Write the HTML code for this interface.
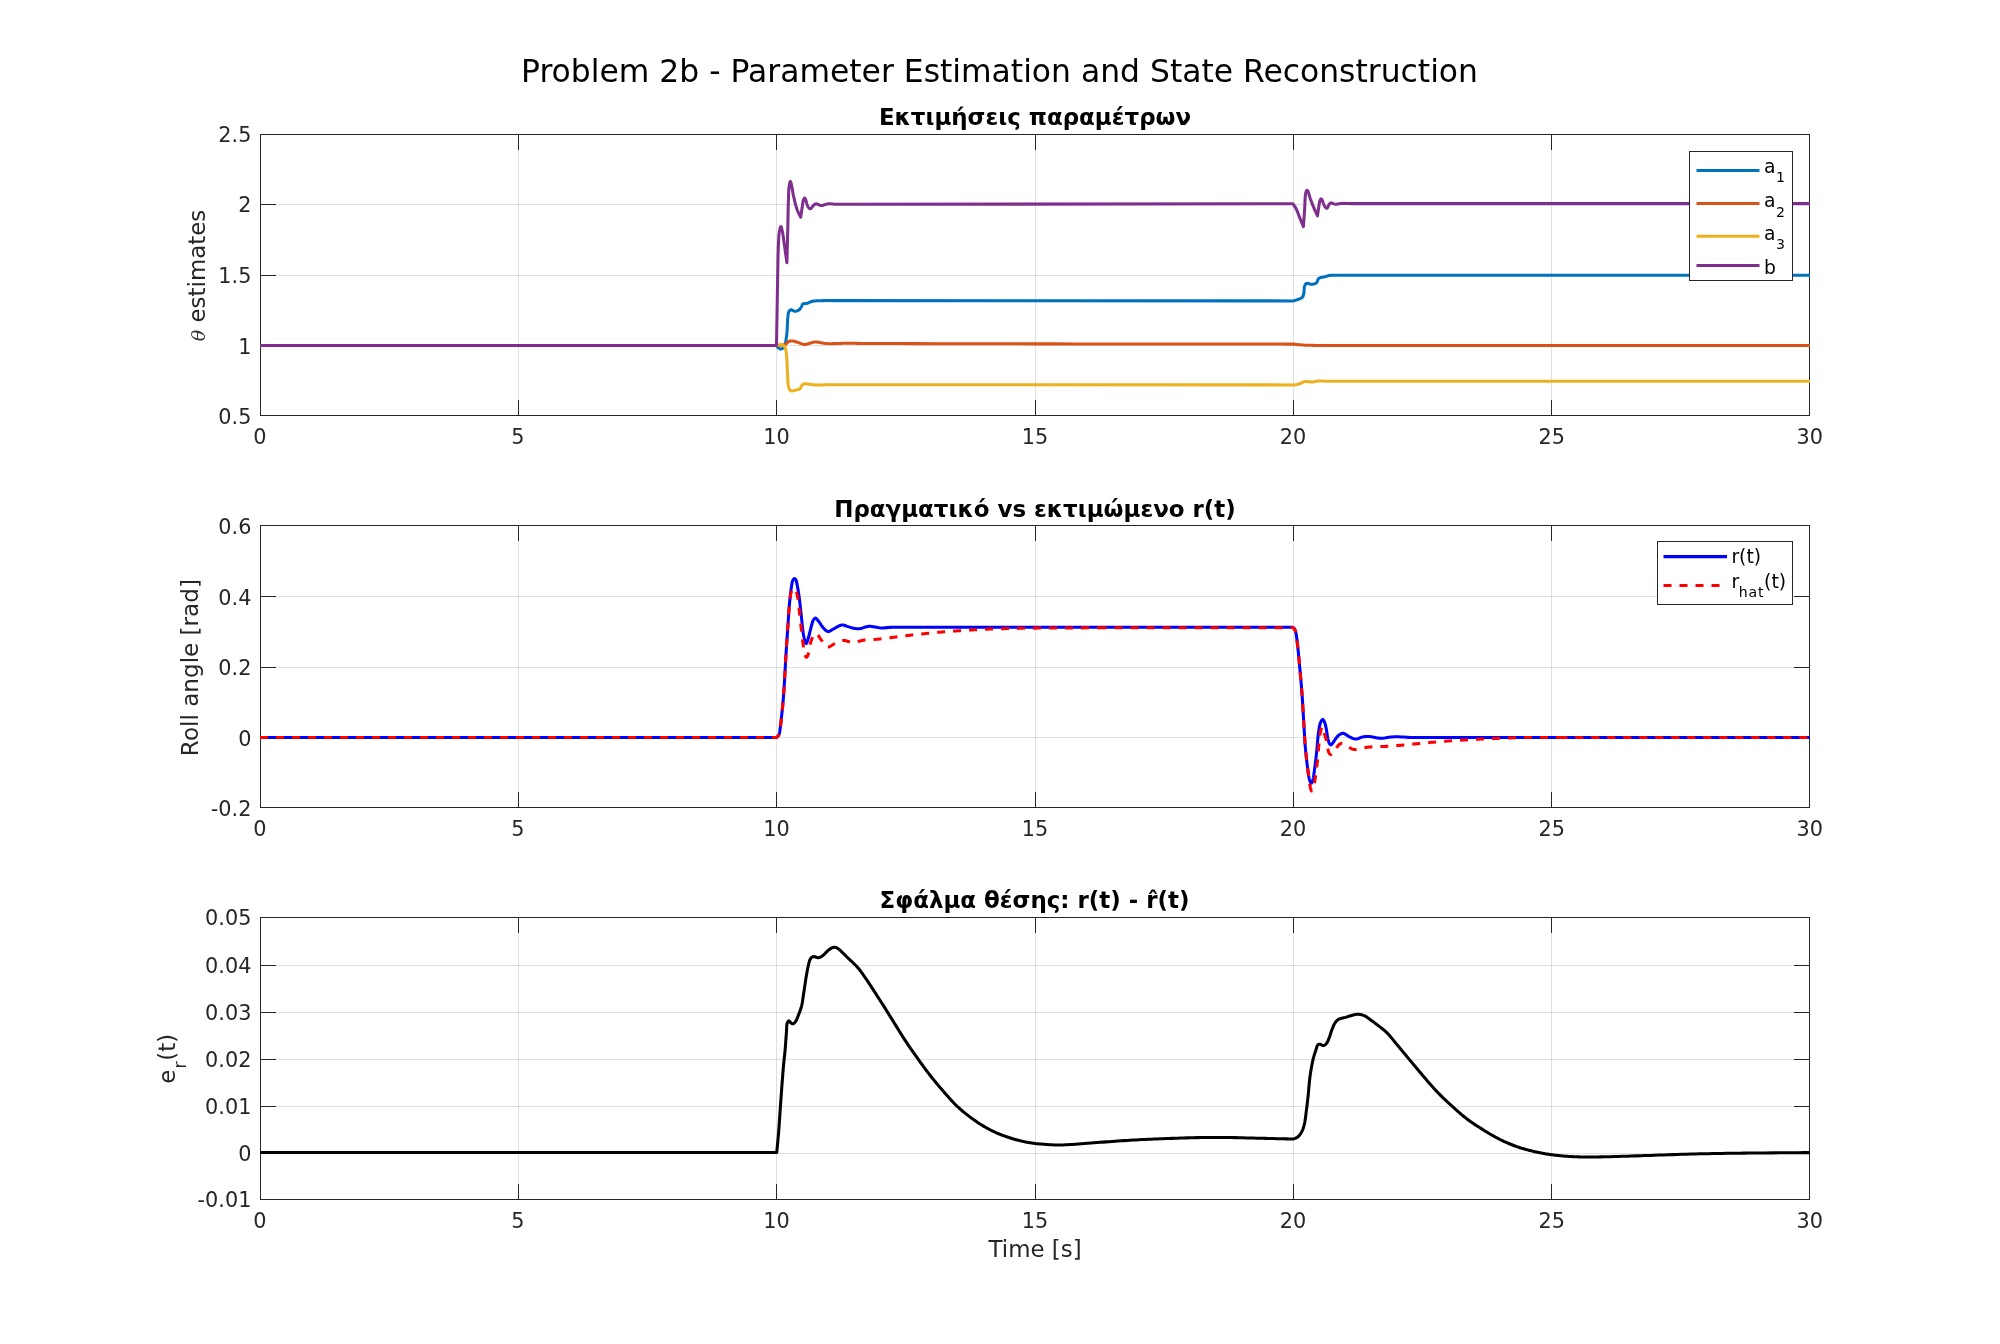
<!DOCTYPE html>
<html lang="el"><head><meta charset="utf-8"><title>Problem 2b - Parameter Estimation and State Reconstruction</title>
<style>
html,body{margin:0;padding:0;background:#fff;overflow:hidden}
svg{display:block;will-change:transform}
text{font-family:"DejaVu Sans","Liberation Sans",sans-serif;fill:#262626}
.tk{font-size:20.8px}
.lb{font-size:22.9px}
.ti{font-size:22.95px;font-weight:bold;fill:#000}
.lg{font-size:18.75px;fill:#000}
.sb{font-size:14.1px}
.ax{stroke:#262626;stroke-width:1;fill:none;shape-rendering:crispEdges}
.gr{stroke:#262626;stroke-opacity:0.14;stroke-width:1;fill:none;shape-rendering:crispEdges}
.ln{fill:none;stroke-width:3.05;stroke-linejoin:round;stroke-linecap:butt}
</style></head>
<body>
<svg width="2000" height="1344" viewBox="0 0 2000 1344">
<rect x="0" y="0" width="2000" height="1344" fill="#ffffff"/>
<text x="999.5" y="82" text-anchor="middle" style="font-size:31.4px;fill:#000">Problem 2b - Parameter Estimation and State Reconstruction</text>
<g id="ax1">
<path class="gr" d="M518.5 134.5 V415.5 M776.5 134.5 V415.5 M1035.5 134.5 V415.5 M1293.5 134.5 V415.5 M1551.5 134.5 V415.5"/>
<path class="gr" d="M260.5 204.5 H1809.5 M260.5 275.5 H1809.5 M260.5 345.5 H1809.5"/>
<path class="ax" d="M518.5 415.5 v-15.6 M518.5 134.5 v15.6 M776.5 415.5 v-15.6 M776.5 134.5 v15.6 M1035.5 415.5 v-15.6 M1035.5 134.5 v15.6 M1293.5 415.5 v-15.6 M1293.5 134.5 v15.6 M1551.5 415.5 v-15.6 M1551.5 134.5 v15.6 M260.5 204.5 h15.6 M1809.5 204.5 h-15.6 M260.5 275.5 h15.6 M1809.5 275.5 h-15.6 M260.5 345.5 h15.6 M1809.5 345.5 h-15.6"/>
<rect class="ax" x="260.5" y="134.5" width="1549" height="281"/>
<clipPath id="c1"><rect x="260" y="134" width="1550" height="282"/></clipPath>
<g clip-path="url(#c1)">
<path class="ln" stroke="#0072BD"  d="M260.00 345.50 L776.60 345.50 L776.65 345.58 L776.79 345.80 L777.01 346.13 L777.28 346.52 L777.58 346.94 L777.90 347.35 L778.21 347.72 L778.50 348.00 L778.74 348.20 L778.99 348.39 L779.24 348.58 L779.51 348.75 L779.77 348.89 L780.05 349.00 L780.32 349.07 L780.60 349.10 L780.93 349.08 L781.28 349.01 L781.63 348.89 L782.00 348.73 L782.35 348.54 L782.69 348.32 L783.01 348.07 L783.30 347.80 L783.61 347.44 L783.88 347.03 L784.12 346.58 L784.33 346.08 L784.53 345.55 L784.72 344.98 L784.91 344.38 L785.10 343.75 L785.39 342.68 L785.66 341.48 L785.91 340.20 L786.14 338.83 L786.35 337.41 L786.55 335.95 L786.73 334.47 L786.90 333.00 L787.07 331.19 L787.20 329.26 L787.29 327.24 L787.37 325.20 L787.45 323.20 L787.54 321.28 L787.65 319.49 L787.80 317.90 L787.90 316.95 L787.99 316.03 L788.08 315.15 L788.17 314.31 L788.29 313.53 L788.45 312.81 L788.64 312.16 L788.90 311.60 L789.10 311.27 L789.31 310.96 L789.54 310.67 L789.78 310.42 L790.04 310.20 L790.31 310.02 L790.60 309.88 L790.90 309.80 L791.28 309.81 L791.70 309.93 L792.13 310.15 L792.59 310.41 L793.06 310.68 L793.54 310.93 L794.02 311.11 L794.50 311.20 L795.04 311.20 L795.61 311.15 L796.20 311.05 L796.79 310.91 L797.37 310.73 L797.92 310.52 L798.44 310.27 L798.90 310.00 L799.27 309.72 L799.60 309.40 L799.90 309.05 L800.18 308.67 L800.45 308.28 L800.70 307.88 L800.95 307.49 L801.20 307.10 L801.42 306.71 L801.62 306.29 L801.79 305.85 L801.96 305.41 L802.14 304.99 L802.35 304.61 L802.60 304.27 L802.90 304.00 L803.30 303.80 L803.75 303.67 L804.25 303.61 L804.78 303.59 L805.33 303.58 L805.89 303.56 L806.45 303.51 L807.00 303.40 L807.63 303.20 L808.26 302.95 L808.89 302.66 L809.53 302.35 L810.19 302.05 L810.87 301.76 L811.57 301.50 L812.30 301.30 L813.21 301.12 L814.15 300.99 L815.13 300.90 L816.14 300.84 L817.17 300.80 L818.23 300.77 L819.30 300.74 L820.40 300.70 L821.91 300.65 L823.70 300.62 L825.62 300.60 L827.52 300.60 L829.26 300.59 L830.68 300.60 L831.65 300.60 L832.00 300.60 L1293.50 300.90 L1293.65 300.86 L1294.05 300.74 L1294.65 300.56 L1295.38 300.33 L1296.19 300.08 L1297.00 299.81 L1297.76 299.55 L1298.40 299.30 L1298.92 299.10 L1299.45 298.90 L1299.97 298.70 L1300.48 298.49 L1300.97 298.26 L1301.42 298.01 L1301.84 297.73 L1302.20 297.40 L1302.49 297.06 L1302.73 296.70 L1302.94 296.31 L1303.12 295.90 L1303.27 295.47 L1303.42 295.01 L1303.56 294.52 L1303.70 294.00 L1303.88 293.12 L1303.99 292.09 L1304.07 290.97 L1304.13 289.80 L1304.20 288.65 L1304.30 287.57 L1304.46 286.60 L1304.70 285.80 L1304.88 285.39 L1305.06 285.00 L1305.26 284.64 L1305.48 284.31 L1305.71 284.02 L1305.98 283.77 L1306.27 283.56 L1306.60 283.40 L1307.11 283.31 L1307.72 283.36 L1308.38 283.51 L1309.09 283.72 L1309.82 283.94 L1310.54 284.14 L1311.24 284.28 L1311.90 284.30 L1312.49 284.25 L1313.08 284.17 L1313.68 284.05 L1314.26 283.91 L1314.82 283.72 L1315.36 283.49 L1315.85 283.22 L1316.30 282.90 L1316.70 282.47 L1317.02 281.93 L1317.30 281.32 L1317.55 280.68 L1317.79 280.04 L1318.05 279.43 L1318.35 278.91 L1318.70 278.50 L1319.02 278.26 L1319.35 278.07 L1319.70 277.92 L1320.06 277.80 L1320.44 277.69 L1320.82 277.60 L1321.21 277.51 L1321.60 277.40 L1322.06 277.28 L1322.53 277.17 L1323.02 277.08 L1323.51 276.99 L1324.02 276.90 L1324.52 276.81 L1325.01 276.71 L1325.50 276.60 L1325.98 276.47 L1326.45 276.33 L1326.92 276.17 L1327.39 276.02 L1327.86 275.86 L1328.33 275.72 L1328.81 275.60 L1329.30 275.50 L1329.81 275.42 L1330.33 275.37 L1330.85 275.33 L1331.37 275.31 L1331.90 275.29 L1332.43 275.28 L1332.97 275.27 L1333.50 275.25 L1334.12 275.23 L1334.82 275.22 L1335.57 275.21 L1336.30 275.21 L1336.96 275.20 L1337.50 275.20 L1337.87 275.20 L1338.00 275.20 L1810.00 275.20"/>
<path class="ln" stroke="#D95319"  d="M260.00 345.50 L776.60 345.50 L776.72 345.49 L777.03 345.47 L777.50 345.44 L778.09 345.40 L778.73 345.36 L779.40 345.31 L780.03 345.25 L780.60 345.20 L781.16 345.16 L781.73 345.13 L782.31 345.10 L782.89 345.07 L783.47 345.01 L784.04 344.93 L784.58 344.79 L785.10 344.60 L785.60 344.32 L786.07 343.94 L786.51 343.51 L786.95 343.04 L787.38 342.58 L787.81 342.15 L788.25 341.78 L788.70 341.50 L789.07 341.33 L789.44 341.20 L789.81 341.09 L790.18 341.01 L790.55 340.95 L790.95 340.91 L791.36 340.90 L791.80 340.90 L792.47 340.95 L793.20 341.07 L793.97 341.24 L794.77 341.44 L795.58 341.68 L796.40 341.92 L797.21 342.17 L798.00 342.40 L798.79 342.66 L799.59 342.97 L800.38 343.30 L801.18 343.64 L801.97 343.95 L802.76 344.21 L803.53 344.41 L804.30 344.50 L804.98 344.49 L805.65 344.41 L806.31 344.27 L806.97 344.09 L807.63 343.89 L808.28 343.68 L808.94 343.47 L809.60 343.30 L810.26 343.13 L810.89 342.94 L811.52 342.74 L812.15 342.54 L812.80 342.35 L813.49 342.19 L814.21 342.07 L815.00 342.00 L816.30 342.01 L817.70 342.14 L819.20 342.36 L820.78 342.64 L822.41 342.94 L824.09 343.22 L825.79 343.45 L827.50 343.60 L829.58 343.67 L831.73 343.68 L833.94 343.64 L836.20 343.57 L838.48 343.48 L840.79 343.40 L843.10 343.33 L845.40 343.30 L848.08 343.30 L851.16 343.32 L854.41 343.35 L857.59 343.39 L860.48 343.43 L862.83 343.47 L864.42 343.49 L865.00 343.50 L868.91 343.51 L879.60 343.54 L895.54 343.57 L915.18 343.62 L936.99 343.67 L959.42 343.72 L980.94 343.76 L1000.00 343.80 L1018.39 343.83 L1037.02 343.86 L1055.82 343.89 L1074.71 343.91 L1093.65 343.94 L1112.55 343.96 L1131.35 343.98 L1150.00 344.00 L1170.05 344.02 L1192.82 344.04 L1216.66 344.05 L1239.88 344.07 L1260.85 344.08 L1277.88 344.09 L1289.32 344.10 L1293.50 344.10 L1293.66 344.12 L1294.10 344.18 L1294.76 344.27 L1295.58 344.38 L1296.51 344.50 L1297.47 344.61 L1298.42 344.72 L1299.30 344.80 L1300.38 344.89 L1301.50 344.96 L1302.67 345.03 L1303.87 345.10 L1305.11 345.15 L1306.38 345.21 L1307.68 345.26 L1309.00 345.30 L1310.87 345.35 L1313.10 345.39 L1315.50 345.43 L1317.88 345.45 L1320.06 345.47 L1321.85 345.49 L1323.05 345.50 L1323.50 345.50 L1810.00 345.40"/>
<path class="ln" stroke="#EDB120"  d="M260.00 345.50 L776.60 345.50 L776.72 345.47 L777.04 345.38 L777.53 345.25 L778.12 345.11 L778.77 344.98 L779.43 344.87 L780.06 344.80 L780.60 344.80 L781.08 344.84 L781.56 344.91 L782.05 344.99 L782.54 345.11 L783.00 345.27 L783.44 345.46 L783.84 345.71 L784.20 346.00 L784.56 346.42 L784.86 346.92 L785.11 347.49 L785.32 348.11 L785.51 348.78 L785.68 349.47 L785.84 350.18 L786.00 350.90 L786.19 351.87 L786.35 352.88 L786.47 353.95 L786.58 355.06 L786.66 356.20 L786.74 357.38 L786.82 358.58 L786.90 359.80 L787.00 361.35 L787.08 362.97 L787.15 364.64 L787.21 366.36 L787.27 368.09 L787.34 369.82 L787.41 371.53 L787.50 373.20 L787.58 374.83 L787.65 376.51 L787.72 378.20 L787.80 379.88 L787.90 381.50 L788.02 383.04 L788.19 384.45 L788.40 385.70 L788.55 386.41 L788.71 387.10 L788.88 387.75 L789.06 388.36 L789.25 388.92 L789.48 389.42 L789.72 389.85 L790.00 390.20 L790.19 390.37 L790.39 390.52 L790.59 390.63 L790.81 390.72 L791.03 390.79 L791.27 390.84 L791.53 390.87 L791.80 390.90 L792.26 390.90 L792.78 390.85 L793.34 390.76 L793.93 390.63 L794.53 390.47 L795.13 390.31 L795.71 390.15 L796.25 390.00 L796.73 389.88 L797.21 389.77 L797.69 389.66 L798.16 389.55 L798.62 389.41 L799.05 389.25 L799.44 389.05 L799.80 388.80 L800.10 388.50 L800.36 388.13 L800.58 387.72 L800.78 387.29 L800.97 386.85 L801.16 386.43 L801.37 386.04 L801.60 385.70 L801.80 385.45 L802.01 385.21 L802.21 384.98 L802.42 384.77 L802.64 384.57 L802.87 384.39 L803.12 384.23 L803.40 384.10 L803.77 383.98 L804.17 383.90 L804.60 383.85 L805.04 383.83 L805.51 383.83 L806.00 383.85 L806.49 383.88 L807.00 383.90 L807.68 383.95 L808.37 384.05 L809.09 384.17 L809.83 384.31 L810.61 384.46 L811.43 384.59 L812.29 384.71 L813.20 384.80 L814.90 384.88 L817.03 384.92 L819.38 384.92 L821.77 384.90 L823.97 384.87 L825.80 384.84 L827.04 384.81 L827.50 384.80 L1293.50 384.90 L1293.62 384.89 L1293.93 384.87 L1294.40 384.82 L1294.97 384.77 L1295.60 384.69 L1296.25 384.61 L1296.86 384.51 L1297.40 384.40 L1297.89 384.27 L1298.38 384.12 L1298.87 383.95 L1299.36 383.76 L1299.85 383.57 L1300.33 383.38 L1300.82 383.19 L1301.30 383.00 L1301.77 382.81 L1302.23 382.59 L1302.67 382.37 L1303.12 382.15 L1303.58 381.95 L1304.06 381.76 L1304.56 381.61 L1305.10 381.50 L1305.85 381.44 L1306.65 381.47 L1307.50 381.55 L1308.37 381.67 L1309.26 381.80 L1310.15 381.92 L1311.04 381.99 L1311.90 382.00 L1312.74 381.94 L1313.57 381.83 L1314.40 381.68 L1315.22 381.52 L1316.06 381.36 L1316.91 381.20 L1317.79 381.08 L1318.70 381.00 L1319.96 380.96 L1321.46 380.98 L1323.06 381.02 L1324.65 381.09 L1326.11 381.16 L1327.30 381.23 L1328.10 381.28 L1328.40 381.30 L1810.00 381.20"/>
<path class="ln" stroke="#7E2F8E"  d="M260.00 345.50 L776.50 345.50 L776.52 344.46 L776.57 341.61 L776.64 337.38 L776.72 332.17 L776.82 326.41 L776.92 320.52 L777.02 314.91 L777.10 310.00 L777.17 305.59 L777.25 301.16 L777.32 296.73 L777.39 292.30 L777.46 287.90 L777.54 283.54 L777.62 279.23 L777.70 275.00 L777.77 271.11 L777.84 267.17 L777.91 263.23 L777.98 259.35 L778.07 255.58 L778.16 251.96 L778.27 248.55 L778.40 245.40 L778.49 243.36 L778.58 241.39 L778.66 239.49 L778.76 237.67 L778.87 235.95 L779.01 234.34 L779.18 232.86 L779.40 231.50 L779.56 230.69 L779.73 229.86 L779.91 229.04 L780.11 228.27 L780.31 227.60 L780.51 227.07 L780.71 226.73 L780.90 226.60 L781.08 226.71 L781.26 227.02 L781.44 227.50 L781.61 228.10 L781.79 228.79 L781.96 229.53 L782.13 230.28 L782.30 231.00 L782.56 232.24 L782.81 233.62 L783.04 235.12 L783.27 236.72 L783.49 238.39 L783.72 240.11 L783.95 241.85 L784.20 243.60 L784.56 246.07 L784.97 249.02 L785.42 252.19 L785.86 255.35 L786.27 258.23 L786.60 260.60 L786.82 262.21 L786.90 262.80 L786.93 261.73 L787.00 258.82 L787.12 254.52 L787.25 249.26 L787.40 243.48 L787.55 237.64 L787.69 232.16 L787.80 227.50 L787.88 223.92 L787.95 220.35 L788.01 216.83 L788.08 213.37 L788.14 210.00 L788.22 206.75 L788.30 203.64 L788.40 200.70 L788.47 198.59 L788.54 196.52 L788.60 194.49 L788.67 192.54 L788.76 190.69 L788.87 188.97 L789.02 187.40 L789.20 186.00 L789.32 185.25 L789.46 184.47 L789.61 183.72 L789.76 183.02 L789.92 182.41 L790.08 181.93 L790.24 181.61 L790.40 181.50 L790.57 181.63 L790.74 182.00 L790.92 182.56 L791.10 183.27 L791.28 184.06 L791.45 184.89 L791.63 185.72 L791.80 186.50 L792.03 187.56 L792.24 188.68 L792.44 189.87 L792.64 191.10 L792.85 192.38 L793.08 193.67 L793.32 194.99 L793.60 196.30 L793.96 197.90 L794.34 199.58 L794.75 201.32 L795.18 203.08 L795.63 204.82 L796.10 206.51 L796.59 208.12 L797.10 209.60 L797.56 210.77 L798.12 212.03 L798.71 213.30 L799.30 214.50 L799.84 215.57 L800.29 216.43 L800.59 216.99 L800.70 217.20 L800.74 216.92 L800.85 216.16 L801.02 215.03 L801.23 213.65 L801.46 212.13 L801.69 210.59 L801.91 209.14 L802.10 207.90 L802.24 206.91 L802.38 205.89 L802.50 204.88 L802.63 203.89 L802.77 202.94 L802.92 202.04 L803.10 201.22 L803.30 200.50 L803.44 200.08 L803.59 199.65 L803.76 199.23 L803.92 198.85 L804.09 198.51 L804.26 198.24 L804.43 198.07 L804.60 198.00 L804.75 198.05 L804.91 198.19 L805.06 198.41 L805.22 198.69 L805.37 199.00 L805.52 199.34 L805.66 199.68 L805.80 200.00 L805.97 200.46 L806.12 200.97 L806.26 201.51 L806.40 202.08 L806.53 202.66 L806.67 203.23 L806.83 203.78 L807.00 204.30 L807.17 204.75 L807.35 205.21 L807.54 205.67 L807.73 206.11 L807.94 206.53 L808.15 206.93 L808.37 207.29 L808.60 207.60 L808.77 207.81 L808.95 208.01 L809.14 208.20 L809.33 208.37 L809.52 208.52 L809.71 208.64 L809.91 208.72 L810.10 208.75 L810.29 208.73 L810.48 208.67 L810.67 208.58 L810.86 208.45 L811.05 208.30 L811.24 208.14 L811.42 207.97 L811.60 207.80 L811.81 207.58 L812.00 207.32 L812.18 207.03 L812.37 206.74 L812.55 206.44 L812.75 206.14 L812.96 205.86 L813.20 205.60 L813.49 205.33 L813.80 205.04 L814.13 204.76 L814.48 204.49 L814.83 204.24 L815.19 204.04 L815.55 203.89 L815.90 203.80 L816.22 203.79 L816.54 203.83 L816.86 203.92 L817.19 204.04 L817.52 204.19 L817.84 204.33 L818.17 204.48 L818.50 204.60 L818.84 204.73 L819.17 204.88 L819.51 205.04 L819.84 205.20 L820.18 205.34 L820.53 205.47 L820.88 205.56 L821.25 205.60 L821.69 205.58 L822.14 205.51 L822.61 205.38 L823.08 205.23 L823.56 205.06 L824.04 204.89 L824.52 204.73 L825.00 204.60 L825.47 204.48 L825.92 204.36 L826.38 204.24 L826.84 204.13 L827.30 204.02 L827.78 203.93 L828.28 203.85 L828.80 203.80 L829.49 203.78 L830.21 203.80 L830.95 203.85 L831.71 203.92 L832.50 204.00 L833.31 204.08 L834.14 204.15 L835.00 204.20 L836.27 204.24 L837.80 204.26 L839.45 204.28 L841.10 204.29 L842.61 204.30 L843.85 204.30 L844.69 204.30 L845.00 204.30 L1293.00 203.80 L1293.09 203.93 L1293.34 204.29 L1293.71 204.84 L1294.17 205.53 L1294.67 206.31 L1295.19 207.14 L1295.68 207.97 L1296.10 208.75 L1296.61 209.81 L1297.12 210.98 L1297.63 212.22 L1298.14 213.51 L1298.64 214.82 L1299.13 216.12 L1299.62 217.39 L1300.10 218.60 L1300.57 219.75 L1301.10 221.03 L1301.65 222.36 L1302.18 223.65 L1302.66 224.81 L1303.05 225.74 L1303.31 226.37 L1303.40 226.60 L1303.44 226.09 L1303.54 224.70 L1303.69 222.65 L1303.87 220.13 L1304.07 217.36 L1304.27 214.54 L1304.45 211.88 L1304.60 209.60 L1304.71 207.70 L1304.80 205.75 L1304.88 203.79 L1304.96 201.86 L1305.04 200.02 L1305.14 198.29 L1305.26 196.74 L1305.40 195.40 L1305.48 194.78 L1305.56 194.19 L1305.64 193.65 L1305.72 193.14 L1305.82 192.67 L1305.93 192.24 L1306.05 191.85 L1306.20 191.50 L1306.31 191.29 L1306.42 191.07 L1306.55 190.87 L1306.68 190.68 L1306.81 190.52 L1306.94 190.40 L1307.07 190.32 L1307.20 190.30 L1307.35 190.37 L1307.50 190.53 L1307.65 190.76 L1307.80 191.06 L1307.95 191.40 L1308.10 191.76 L1308.25 192.13 L1308.40 192.50 L1308.64 193.13 L1308.88 193.83 L1309.11 194.60 L1309.35 195.42 L1309.59 196.27 L1309.84 197.15 L1310.11 198.03 L1310.40 198.90 L1310.78 199.96 L1311.18 201.06 L1311.61 202.20 L1312.06 203.35 L1312.51 204.51 L1312.98 205.66 L1313.44 206.79 L1313.90 207.90 L1314.39 209.04 L1314.95 210.31 L1315.55 211.64 L1316.13 212.93 L1316.67 214.10 L1317.10 215.04 L1317.39 215.67 L1317.50 215.90 L1317.54 215.63 L1317.64 214.89 L1317.79 213.80 L1317.98 212.47 L1318.19 211.02 L1318.41 209.54 L1318.61 208.17 L1318.80 207.00 L1318.94 206.11 L1319.07 205.19 L1319.20 204.28 L1319.33 203.40 L1319.47 202.55 L1319.62 201.78 L1319.80 201.09 L1320.00 200.50 L1320.12 200.21 L1320.25 199.93 L1320.39 199.66 L1320.53 199.42 L1320.67 199.21 L1320.81 199.05 L1320.96 198.94 L1321.10 198.90 L1321.25 198.94 L1321.40 199.05 L1321.55 199.22 L1321.70 199.44 L1321.86 199.69 L1322.01 199.96 L1322.16 200.24 L1322.30 200.50 L1322.49 200.89 L1322.68 201.34 L1322.85 201.82 L1323.02 202.32 L1323.19 202.84 L1323.37 203.35 L1323.55 203.84 L1323.75 204.30 L1323.94 204.71 L1324.13 205.13 L1324.33 205.54 L1324.53 205.95 L1324.73 206.33 L1324.95 206.69 L1325.17 207.02 L1325.40 207.30 L1325.58 207.49 L1325.77 207.68 L1325.96 207.86 L1326.16 208.02 L1326.36 208.15 L1326.55 208.25 L1326.73 208.30 L1326.90 208.30 L1327.06 208.24 L1327.21 208.11 L1327.36 207.94 L1327.49 207.73 L1327.63 207.50 L1327.75 207.26 L1327.88 207.02 L1328.00 206.80 L1328.12 206.56 L1328.23 206.30 L1328.32 206.03 L1328.41 205.75 L1328.51 205.48 L1328.62 205.21 L1328.75 204.95 L1328.90 204.70 L1329.10 204.43 L1329.32 204.15 L1329.56 203.87 L1329.81 203.60 L1330.08 203.36 L1330.35 203.15 L1330.63 202.99 L1330.90 202.90 L1331.15 202.88 L1331.40 202.92 L1331.65 203.00 L1331.91 203.12 L1332.18 203.25 L1332.45 203.38 L1332.72 203.50 L1333.00 203.60 L1333.33 203.70 L1333.66 203.81 L1334.01 203.92 L1334.36 204.03 L1334.72 204.13 L1335.07 204.21 L1335.44 204.27 L1335.80 204.30 L1336.19 204.30 L1336.58 204.26 L1336.98 204.20 L1337.38 204.12 L1337.78 204.04 L1338.18 203.95 L1338.59 203.87 L1339.00 203.80 L1339.42 203.74 L1339.83 203.68 L1340.24 203.62 L1340.66 203.56 L1341.08 203.51 L1341.53 203.47 L1342.00 203.43 L1342.50 203.40 L1343.40 203.38 L1344.53 203.39 L1345.76 203.42 L1347.01 203.47 L1348.16 203.51 L1349.11 203.56 L1349.76 203.59 L1350.00 203.60 L1810.00 203.60"/>
</g>
<text class="tk" x="259.9" y="444.4" text-anchor="middle">0</text>
<text class="tk" x="517.9" y="444.4" text-anchor="middle">5</text>
<text class="tk" x="776.5" y="444.4" text-anchor="middle">10</text>
<text class="tk" x="1034.9" y="444.4" text-anchor="middle">15</text>
<text class="tk" x="1292.9" y="444.4" text-anchor="middle">20</text>
<text class="tk" x="1551.8" y="444.4" text-anchor="middle">25</text>
<text class="tk" x="1809.8" y="444.4" text-anchor="middle">30</text>
<text class="tk" x="251.4" y="141.8" text-anchor="end">2.5</text>
<text class="tk" x="251.4" y="211.9" text-anchor="end">2</text>
<text class="tk" x="251.4" y="283" text-anchor="end">1.5</text>
<text class="tk" x="251.4" y="353.85" text-anchor="end">1</text>
<text class="tk" x="251.4" y="424" text-anchor="end">0.5</text>
<text class="ti" x="1035" y="125.2" text-anchor="middle">Εκτιμήσεις παραμέτρων</text>
<text class="lb" transform="translate(205.2 275.5) rotate(-90)" text-anchor="middle"><tspan style="font-family:'DejaVu Serif','Liberation Serif',serif;font-style:italic;font-size:19px;fill:#333">θ</tspan> estimates</text>
<rect x="1689.5" y="151.5" width="103" height="129" fill="#fff" stroke="#262626" stroke-width="1" shape-rendering="crispEdges"/>
<path class="ln" stroke="#0072BD" d="M1696.5 170.4 H1759.5"/>
<path class="ln" stroke="#D95319" d="M1696.5 203.4 H1759.5"/>
<path class="ln" stroke="#EDB120" d="M1696.5 236.3 H1759.5"/>
<path class="ln" stroke="#7E2F8E" d="M1696.5 265.5 H1759.5"/>
<text class="lg" x="1764.1" y="173">a<tspan class="sb" dx="0.5" dy="9.3">1</tspan></text>
<text class="lg" x="1764.1" y="207.2">a<tspan class="sb" dx="0.5" dy="9.3">2</tspan></text>
<text class="lg" x="1764.1" y="239.9">a<tspan class="sb" dx="0.5" dy="9.3">3</tspan></text>
<text class="lg" x="1764.1" y="273.5">b</text>
</g>
<g id="ax2">
<path class="gr" d="M518.5 525.5 V807.5 M776.5 525.5 V807.5 M1035.5 525.5 V807.5 M1293.5 525.5 V807.5 M1551.5 525.5 V807.5"/>
<path class="gr" d="M260.5 596.5 H1809.5 M260.5 667.5 H1809.5 M260.5 737.5 H1809.5"/>
<path class="ax" d="M518.5 807.5 v-15.6 M518.5 525.5 v15.6 M776.5 807.5 v-15.6 M776.5 525.5 v15.6 M1035.5 807.5 v-15.6 M1035.5 525.5 v15.6 M1293.5 807.5 v-15.6 M1293.5 525.5 v15.6 M1551.5 807.5 v-15.6 M1551.5 525.5 v15.6 M260.5 596.5 h15.6 M1809.5 596.5 h-15.6 M260.5 667.5 h15.6 M1809.5 667.5 h-15.6 M260.5 737.5 h15.6 M1809.5 737.5 h-15.6"/>
<rect class="ax" x="260.5" y="525.5" width="1549" height="282"/>
<clipPath id="c2"><rect x="260" y="525" width="1550" height="283"/></clipPath>
<g clip-path="url(#c2)">
<path class="ln" stroke="#0000FF"  d="M260.00 737.50 L776.50 737.50 L776.57 737.44 L776.78 737.27 L777.07 737.01 L777.43 736.68 L777.81 736.29 L778.19 735.87 L778.53 735.43 L778.80 735.00 L779.08 734.35 L779.31 733.63 L779.50 732.84 L779.66 732.00 L779.80 731.11 L779.93 730.19 L780.06 729.25 L780.20 728.30 L780.39 727.03 L780.57 725.69 L780.73 724.29 L780.89 722.85 L781.04 721.38 L781.19 719.89 L781.34 718.39 L781.50 716.90 L781.68 715.29 L781.86 713.67 L782.04 712.03 L782.22 710.38 L782.39 708.71 L782.57 707.00 L782.74 705.27 L782.90 703.50 L783.08 701.46 L783.25 699.41 L783.41 697.34 L783.57 695.22 L783.72 693.04 L783.88 690.79 L784.04 688.45 L784.20 686.00 L784.42 682.47 L784.64 678.67 L784.86 674.68 L785.09 670.57 L785.31 666.40 L785.54 662.26 L785.77 658.20 L786.00 654.30 L786.22 650.84 L786.44 647.42 L786.66 644.04 L786.89 640.70 L787.11 637.38 L787.34 634.08 L787.57 630.79 L787.80 627.50 L788.02 624.30 L788.23 621.09 L788.43 617.88 L788.64 614.68 L788.86 611.53 L789.09 608.43 L789.33 605.42 L789.60 602.50 L789.84 600.04 L790.10 597.54 L790.36 595.05 L790.64 592.63 L790.92 590.33 L791.21 588.18 L791.50 586.26 L791.80 584.60 L791.95 583.84 L792.09 583.13 L792.23 582.46 L792.37 581.85 L792.52 581.29 L792.69 580.77 L792.88 580.31 L793.10 579.90 L793.25 579.66 L793.42 579.43 L793.59 579.21 L793.77 579.01 L793.96 578.84 L794.14 578.71 L794.32 578.63 L794.50 578.60 L794.68 578.63 L794.86 578.71 L795.05 578.84 L795.23 579.01 L795.41 579.21 L795.59 579.42 L795.75 579.66 L795.90 579.90 L796.11 580.32 L796.29 580.79 L796.44 581.31 L796.57 581.88 L796.70 582.50 L796.82 583.16 L796.95 583.86 L797.10 584.60 L797.38 586.00 L797.66 587.57 L797.96 589.29 L798.26 591.11 L798.55 593.02 L798.85 594.98 L799.13 596.95 L799.40 598.90 L799.70 601.22 L799.98 603.62 L800.26 606.10 L800.53 608.61 L800.79 611.15 L801.05 613.67 L801.32 616.16 L801.60 618.60 L801.86 620.92 L802.10 623.31 L802.35 625.70 L802.59 628.07 L802.85 630.36 L803.13 632.54 L803.45 634.57 L803.80 636.40 L804.05 637.56 L804.32 638.77 L804.60 639.98 L804.89 641.10 L805.19 642.09 L805.49 642.88 L805.80 643.40 L806.10 643.60 L806.37 643.46 L806.64 643.07 L806.92 642.47 L807.20 641.71 L807.48 640.85 L807.76 639.95 L808.03 639.05 L808.30 638.20 L808.66 637.03 L809.00 635.74 L809.34 634.37 L809.67 632.95 L810.01 631.51 L810.34 630.11 L810.67 628.76 L811.00 627.50 L811.27 626.51 L811.52 625.52 L811.76 624.54 L812.01 623.58 L812.27 622.68 L812.55 621.83 L812.86 621.07 L813.20 620.40 L813.44 619.99 L813.70 619.59 L813.96 619.20 L814.23 618.85 L814.52 618.55 L814.80 618.31 L815.10 618.16 L815.40 618.10 L815.77 618.18 L816.15 618.41 L816.55 618.75 L816.95 619.19 L817.36 619.68 L817.77 620.21 L818.19 620.74 L818.60 621.25 L819.13 621.93 L819.66 622.69 L820.19 623.50 L820.72 624.34 L821.26 625.19 L821.82 626.02 L822.40 626.80 L823.00 627.50 L823.57 628.12 L824.14 628.77 L824.74 629.41 L825.34 630.02 L825.96 630.56 L826.59 631.00 L827.24 631.33 L827.90 631.50 L828.58 631.49 L829.28 631.31 L829.99 631.00 L830.71 630.60 L831.45 630.15 L832.20 629.67 L832.97 629.21 L833.75 628.80 L834.70 628.32 L835.69 627.75 L836.71 627.15 L837.75 626.56 L838.78 626.00 L839.81 625.53 L840.82 625.19 L841.80 625.00 L842.60 624.99 L843.39 625.08 L844.17 625.27 L844.93 625.51 L845.70 625.79 L846.46 626.08 L847.23 626.36 L848.00 626.60 L848.79 626.83 L849.58 627.08 L850.37 627.33 L851.16 627.59 L851.95 627.84 L852.74 628.06 L853.52 628.25 L854.30 628.40 L855.01 628.51 L855.71 628.59 L856.40 628.66 L857.09 628.70 L857.78 628.72 L858.50 628.71 L859.23 628.67 L860.00 628.60 L861.02 628.43 L862.08 628.15 L863.17 627.80 L864.29 627.41 L865.44 627.04 L866.61 626.70 L867.79 626.44 L869.00 626.30 L870.41 626.30 L871.87 626.44 L873.36 626.67 L874.88 626.96 L876.42 627.27 L877.95 627.56 L879.49 627.78 L881.00 627.90 L882.50 627.92 L884.00 627.87 L885.50 627.77 L887.00 627.64 L888.50 627.50 L890.00 627.37 L891.50 627.26 L893.00 627.20 L894.66 627.18 L896.56 627.17 L898.55 627.19 L900.50 627.21 L902.26 627.24 L903.69 627.27 L904.65 627.29 L905.00 627.30 L1292.60 627.20 L1292.65 627.23 L1292.80 627.31 L1293.01 627.45 L1293.27 627.61 L1293.55 627.81 L1293.83 628.03 L1294.09 628.26 L1294.30 628.50 L1294.53 628.83 L1294.73 629.20 L1294.91 629.59 L1295.08 630.02 L1295.24 630.48 L1295.39 630.98 L1295.55 631.52 L1295.70 632.10 L1295.97 633.27 L1296.22 634.60 L1296.45 636.06 L1296.67 637.64 L1296.88 639.31 L1297.08 641.04 L1297.29 642.81 L1297.50 644.60 L1297.79 647.07 L1298.07 649.69 L1298.35 652.43 L1298.62 655.27 L1298.89 658.17 L1299.16 661.11 L1299.43 664.06 L1299.70 667.00 L1300.00 670.23 L1300.30 673.51 L1300.60 676.84 L1300.90 680.20 L1301.19 683.59 L1301.47 686.98 L1301.74 690.37 L1302.00 693.75 L1302.24 697.17 L1302.47 700.61 L1302.68 704.05 L1302.89 707.50 L1303.09 710.95 L1303.29 714.39 L1303.49 717.83 L1303.70 721.25 L1303.90 724.64 L1304.10 728.05 L1304.29 731.46 L1304.49 734.87 L1304.69 738.24 L1304.91 741.57 L1305.14 744.83 L1305.40 748.00 L1305.65 750.75 L1305.92 753.49 L1306.20 756.21 L1306.49 758.87 L1306.79 761.47 L1307.09 763.97 L1307.40 766.35 L1307.70 768.60 L1307.91 770.18 L1308.11 771.74 L1308.31 773.25 L1308.51 774.70 L1308.72 776.07 L1308.95 777.36 L1309.21 778.54 L1309.50 779.60 L1309.70 780.22 L1309.90 780.85 L1310.12 781.47 L1310.35 782.05 L1310.58 782.55 L1310.80 782.94 L1311.03 783.20 L1311.25 783.30 L1311.45 783.23 L1311.65 783.02 L1311.85 782.71 L1312.06 782.30 L1312.25 781.84 L1312.45 781.33 L1312.63 780.81 L1312.80 780.30 L1313.06 779.37 L1313.29 778.31 L1313.50 777.16 L1313.68 775.91 L1313.86 774.59 L1314.03 773.22 L1314.21 771.82 L1314.40 770.40 L1314.67 768.43 L1314.95 766.34 L1315.23 764.16 L1315.51 761.91 L1315.79 759.59 L1316.06 757.24 L1316.33 754.87 L1316.60 752.50 L1316.88 749.76 L1317.14 746.84 L1317.39 743.83 L1317.63 740.81 L1317.89 737.86 L1318.16 735.05 L1318.46 732.47 L1318.80 730.20 L1319.02 728.94 L1319.23 727.74 L1319.45 726.60 L1319.68 725.52 L1319.93 724.52 L1320.19 723.59 L1320.48 722.75 L1320.80 722.00 L1321.01 721.56 L1321.24 721.12 L1321.48 720.70 L1321.73 720.32 L1321.97 719.99 L1322.22 719.73 L1322.46 719.56 L1322.70 719.50 L1322.92 719.56 L1323.14 719.72 L1323.37 719.97 L1323.59 720.28 L1323.80 720.64 L1324.01 721.02 L1324.21 721.42 L1324.40 721.80 L1324.65 722.36 L1324.87 722.97 L1325.08 723.63 L1325.27 724.33 L1325.45 725.07 L1325.63 725.85 L1325.81 726.66 L1326.00 727.50 L1326.28 728.88 L1326.55 730.45 L1326.82 732.15 L1327.09 733.90 L1327.36 735.64 L1327.63 737.28 L1327.91 738.76 L1328.20 740.00 L1328.36 740.61 L1328.52 741.18 L1328.68 741.71 L1328.85 742.21 L1329.02 742.67 L1329.20 743.08 L1329.39 743.46 L1329.60 743.80 L1329.75 744.00 L1329.90 744.20 L1330.06 744.39 L1330.22 744.56 L1330.39 744.70 L1330.55 744.81 L1330.73 744.88 L1330.90 744.90 L1331.12 744.84 L1331.35 744.70 L1331.59 744.50 L1331.83 744.24 L1332.07 743.94 L1332.31 743.62 L1332.56 743.31 L1332.80 743.00 L1333.12 742.59 L1333.43 742.13 L1333.74 741.65 L1334.05 741.14 L1334.37 740.63 L1334.70 740.11 L1335.04 739.59 L1335.40 739.10 L1335.80 738.57 L1336.22 738.01 L1336.65 737.45 L1337.09 736.90 L1337.55 736.36 L1338.02 735.86 L1338.50 735.40 L1339.00 735.00 L1339.46 734.68 L1339.94 734.37 L1340.43 734.08 L1340.94 733.83 L1341.44 733.61 L1341.94 733.45 L1342.43 733.34 L1342.90 733.30 L1343.30 733.33 L1343.70 733.42 L1344.08 733.56 L1344.47 733.74 L1344.85 733.95 L1345.23 734.16 L1345.61 734.39 L1346.00 734.60 L1346.44 734.85 L1346.86 735.12 L1347.29 735.42 L1347.71 735.72 L1348.15 736.03 L1348.61 736.34 L1349.09 736.63 L1349.60 736.90 L1350.29 737.24 L1351.03 737.60 L1351.82 737.97 L1352.63 738.31 L1353.45 738.62 L1354.28 738.87 L1355.10 739.03 L1355.90 739.10 L1356.68 739.04 L1357.45 738.86 L1358.23 738.59 L1359.00 738.27 L1359.78 737.93 L1360.55 737.60 L1361.33 737.31 L1362.10 737.10 L1362.82 736.95 L1363.52 736.83 L1364.21 736.72 L1364.91 736.63 L1365.62 736.57 L1366.36 736.52 L1367.15 736.50 L1368.00 736.50 L1369.38 736.59 L1370.89 736.78 L1372.50 737.05 L1374.18 737.35 L1375.90 737.65 L1377.63 737.92 L1379.34 738.11 L1381.00 738.20 L1382.61 738.16 L1384.22 738.02 L1385.81 737.82 L1387.41 737.57 L1389.02 737.32 L1390.65 737.09 L1392.31 736.90 L1394.00 736.80 L1396.14 736.78 L1398.63 736.84 L1401.28 736.95 L1403.89 737.09 L1406.27 737.24 L1408.21 737.37 L1409.52 737.46 L1410.00 737.50 L1810.00 737.50"/>
<path class="ln" stroke="#FF0000" stroke-dasharray="8 8" stroke-dashoffset="0" d="M260.00 737.50 L776.50 737.50"/>
<path class="ln" stroke="#FF0000" stroke-dasharray="8 8" stroke-dashoffset="3.7" d="M776.50 737.50 L776.57 737.44 L776.78 737.27 L777.07 737.01 L777.43 736.68 L777.81 736.29 L778.19 735.87 L778.53 735.43 L778.80 735.00 L779.08 734.35 L779.31 733.63 L779.50 732.84 L779.66 732.00 L779.80 731.11 L779.93 730.19 L780.06 729.25 L780.20 728.30 L780.39 727.03 L780.57 725.69 L780.73 724.29 L780.89 722.85 L781.04 721.38 L781.19 719.89 L781.34 718.39 L781.50 716.90 L781.68 715.29 L781.86 713.67 L782.04 712.03 L782.22 710.38 L782.39 708.71 L782.57 707.00 L782.74 705.27 L782.90 703.50 L783.08 701.46 L783.25 699.41 L783.41 697.34 L783.57 695.22 L783.72 693.04 L783.88 690.79 L784.04 688.45 L784.20 686.00 L784.42 682.47 L784.64 678.67 L784.86 674.68 L785.09 670.57 L785.31 666.40 L785.54 662.26 L785.77 658.20 L786.00 654.30 L786.22 650.84 L786.44 647.42 L786.66 644.04 L786.89 640.70 L787.11 637.38 L787.34 634.08 L787.57 630.79 L787.80 627.50 L788.02 624.25 L788.24 620.90 L788.45 617.52 L788.67 614.18 L788.89 610.94 L789.12 607.87 L789.35 605.03 L789.60 602.50 L789.75 601.10 L789.89 599.78 L790.03 598.53 L790.17 597.35 L790.32 596.24 L790.49 595.20 L790.68 594.22 L790.90 593.30 L791.06 592.72 L791.21 592.16 L791.37 591.62 L791.55 591.12 L791.73 590.65 L791.93 590.22 L792.15 589.84 L792.40 589.50 L792.60 589.28 L792.81 589.06 L793.04 588.87 L793.28 588.69 L793.52 588.55 L793.75 588.45 L793.98 588.40 L794.20 588.40 L794.44 588.48 L794.68 588.64 L794.92 588.87 L795.15 589.15 L795.38 589.48 L795.59 589.83 L795.80 590.21 L796.00 590.60 L796.31 591.32 L796.59 592.16 L796.84 593.08 L797.07 594.09 L797.29 595.15 L797.50 596.27 L797.70 597.43 L797.90 598.60 L798.17 600.33 L798.42 602.21 L798.65 604.19 L798.86 606.25 L799.07 608.36 L799.27 610.47 L799.48 612.56 L799.70 614.60 L799.92 616.59 L800.15 618.58 L800.37 620.57 L800.59 622.56 L800.82 624.54 L801.04 626.53 L801.27 628.52 L801.50 630.50 L801.73 632.51 L801.96 634.57 L802.20 636.65 L802.43 638.72 L802.67 640.75 L802.91 642.71 L803.15 644.57 L803.40 646.30 L803.57 647.50 L803.74 648.68 L803.90 649.82 L804.07 650.92 L804.24 651.96 L804.44 652.92 L804.65 653.81 L804.90 654.60 L805.06 655.06 L805.24 655.52 L805.42 655.97 L805.61 656.38 L805.80 656.74 L806.00 657.03 L806.20 657.22 L806.40 657.30 L806.58 657.26 L806.77 657.14 L806.96 656.95 L807.16 656.69 L807.35 656.38 L807.54 656.04 L807.73 655.68 L807.90 655.30 L808.23 654.36 L808.52 653.16 L808.78 651.78 L809.02 650.27 L809.26 648.72 L809.51 647.18 L809.79 645.72 L810.10 644.40 L810.39 643.38 L810.68 642.37 L810.98 641.38 L811.30 640.42 L811.63 639.49 L811.97 638.61 L812.33 637.78 L812.70 637.00 L813.00 636.42 L813.30 635.81 L813.62 635.22 L813.94 634.66 L814.27 634.16 L814.61 633.75 L814.95 633.45 L815.30 633.30 L815.58 633.29 L815.86 633.36 L816.15 633.49 L816.45 633.68 L816.74 633.91 L817.03 634.17 L817.32 634.43 L817.60 634.70 L817.97 635.10 L818.33 635.57 L818.69 636.10 L819.05 636.65 L819.39 637.22 L819.74 637.79 L820.07 638.32 L820.40 638.80 L820.66 639.15 L820.90 639.47 L821.14 639.78 L821.38 640.08 L821.62 640.38 L821.87 640.70 L822.13 641.03 L822.40 641.40 L822.81 642.00 L823.24 642.71 L823.69 643.47 L824.15 644.24 L824.63 644.99 L825.11 645.66 L825.60 646.21 L826.10 646.60 L826.42 646.77 L826.74 646.89 L827.06 646.97 L827.39 647.02 L827.72 647.03 L828.06 647.01 L828.42 646.97 L828.80 646.90 L829.44 646.70 L830.13 646.38 L830.87 645.97 L831.63 645.50 L832.40 644.99 L833.16 644.49 L833.90 644.01 L834.60 643.60 L835.17 643.28 L835.73 642.96 L836.28 642.64 L836.81 642.33 L837.35 642.04 L837.89 641.77 L838.44 641.52 L839.00 641.30 L839.56 641.11 L840.11 640.94 L840.67 640.78 L841.24 640.65 L841.81 640.54 L842.40 640.46 L842.99 640.41 L843.60 640.40 L844.33 640.45 L845.10 640.58 L845.88 640.75 L846.67 640.96 L847.46 641.19 L848.26 641.42 L849.04 641.63 L849.80 641.80 L850.49 641.95 L851.18 642.12 L851.87 642.28 L852.55 642.44 L853.22 642.58 L853.89 642.67 L854.55 642.72 L855.20 642.70 L855.82 642.60 L856.42 642.44 L857.02 642.22 L857.61 641.96 L858.20 641.70 L858.80 641.43 L859.39 641.20 L860.00 641.00 L860.60 640.84 L861.18 640.69 L861.75 640.56 L862.34 640.43 L862.94 640.32 L863.58 640.21 L864.26 640.10 L865.00 640.00 L866.32 639.86 L867.79 639.75 L869.37 639.67 L871.03 639.60 L872.76 639.53 L874.51 639.44 L876.27 639.34 L878.00 639.20 L879.92 639.01 L881.89 638.78 L883.88 638.54 L885.90 638.27 L887.93 638.00 L889.96 637.73 L891.99 637.46 L894.00 637.20 L896.00 636.95 L898.00 636.69 L900.00 636.44 L902.00 636.18 L904.00 635.93 L906.00 635.68 L908.00 635.44 L910.00 635.20 L912.00 634.97 L914.00 634.75 L916.00 634.53 L918.00 634.32 L920.00 634.11 L922.00 633.90 L924.00 633.70 L926.00 633.50 L928.00 633.30 L930.00 633.10 L932.00 632.91 L934.00 632.72 L936.00 632.53 L938.00 632.35 L940.00 632.17 L942.00 632.00 L944.00 631.83 L946.00 631.67 L948.00 631.52 L950.00 631.37 L952.00 631.22 L954.00 631.08 L956.00 630.94 L958.00 630.80 L960.00 630.66 L962.00 630.53 L964.00 630.40 L966.00 630.27 L968.00 630.14 L970.00 630.02 L972.00 629.91 L974.00 629.80 L976.00 629.70 L978.00 629.60 L980.00 629.51 L982.00 629.42 L984.00 629.33 L986.00 629.25 L988.00 629.18 L990.00 629.10 L992.00 629.03 L994.00 628.96 L996.00 628.89 L998.00 628.83 L1000.00 628.76 L1002.00 628.71 L1004.00 628.65 L1006.00 628.60 L1008.00 628.55 L1010.00 628.51 L1012.00 628.47 L1014.00 628.43 L1016.00 628.40 L1018.00 628.36 L1020.00 628.33 L1022.00 628.30 L1024.00 628.27 L1026.00 628.24 L1028.00 628.21 L1030.00 628.19 L1032.00 628.16 L1034.00 628.14 L1036.00 628.12 L1038.00 628.10 L1039.94 628.08 L1041.81 628.07 L1043.64 628.06 L1045.48 628.04 L1047.40 628.03 L1049.42 628.02 L1051.60 628.01 L1054.00 628.00 L1059.24 627.97 L1065.99 627.94 L1073.55 627.91 L1081.27 627.88 L1088.44 627.85 L1094.41 627.82 L1098.49 627.81 L1100.00 627.80"/>
<path class="ln" stroke="#FF0000" stroke-dasharray="8 8" stroke-dashoffset="1.4" d="M1100.00 627.80 L1102.99 627.80 L1111.13 627.79 L1123.21 627.79 L1138.01 627.78 L1154.31 627.77 L1170.88 627.77 L1186.52 627.76 L1200.00 627.75 L1211.58 627.74 L1223.89 627.74 L1236.41 627.73 L1248.66 627.72 L1260.15 627.71 L1270.36 627.71 L1278.81 627.70 L1285.00 627.70 L1286.38 627.68 L1287.61 627.62 L1288.70 627.56 L1289.67 627.50 L1290.53 627.47 L1291.30 627.47 L1291.98 627.55 L1292.60 627.70 L1292.89 627.81 L1293.15 627.94 L1293.38 628.08 L1293.58 628.23 L1293.77 628.40 L1293.95 628.58 L1294.12 628.78 L1294.30 629.00 L1294.52 629.29 L1294.72 629.61 L1294.90 629.94 L1295.07 630.30 L1295.23 630.70 L1295.39 631.12 L1295.55 631.59 L1295.70 632.10 L1295.98 633.23 L1296.24 634.53 L1296.47 636.00 L1296.68 637.58 L1296.89 639.27 L1297.09 641.02 L1297.29 642.80 L1297.50 644.60 L1297.79 647.07 L1298.07 649.69 L1298.35 652.43 L1298.62 655.27 L1298.89 658.17 L1299.16 661.11 L1299.43 664.06 L1299.70 667.00 L1300.00 670.23 L1300.30 673.51 L1300.60 676.84 L1300.90 680.20 L1301.19 683.59 L1301.47 686.98 L1301.74 690.37 L1302.00 693.75 L1302.24 697.17 L1302.47 700.61 L1302.68 704.05 L1302.89 707.50 L1303.09 710.95 L1303.29 714.39 L1303.49 717.83 L1303.70 721.25 L1303.90 724.64 L1304.10 728.05 L1304.29 731.46 L1304.49 734.87 L1304.69 738.24 L1304.91 741.57 L1305.14 744.83 L1305.40 748.00 L1305.65 750.73 L1305.92 753.43 L1306.21 756.08 L1306.51 758.69 L1306.81 761.26 L1307.11 763.76 L1307.41 766.21 L1307.70 768.60 L1307.94 770.59 L1308.18 772.58 L1308.42 774.54 L1308.66 776.45 L1308.89 778.30 L1309.13 780.05 L1309.37 781.69 L1309.60 783.20 L1309.75 784.12 L1309.89 785.00 L1310.04 785.85 L1310.18 786.66 L1310.33 787.41 L1310.48 788.11 L1310.63 788.74 L1310.80 789.30 L1310.89 789.59 L1310.99 789.88 L1311.08 790.17 L1311.18 790.43 L1311.28 790.65 L1311.38 790.83 L1311.49 790.95 L1311.60 791.00 L1311.72 790.97 L1311.84 790.86 L1311.97 790.70 L1312.10 790.49 L1312.24 790.25 L1312.36 790.00 L1312.49 789.74 L1312.60 789.50 L1312.74 789.18 L1312.86 788.84 L1312.97 788.48 L1313.08 788.10 L1313.18 787.71 L1313.29 787.31 L1313.39 786.90 L1313.50 786.50 L1313.63 786.05 L1313.75 785.59 L1313.88 785.14 L1314.01 784.67 L1314.13 784.18 L1314.26 783.68 L1314.38 783.16 L1314.50 782.60 L1314.66 781.78 L1314.82 780.90 L1314.97 779.97 L1315.12 779.00 L1315.27 778.01 L1315.42 777.01 L1315.56 776.00 L1315.70 775.00 L1315.85 773.91 L1315.99 772.78 L1316.13 771.64 L1316.27 770.49 L1316.40 769.34 L1316.54 768.20 L1316.67 767.08 L1316.80 766.00 L1316.92 765.07 L1317.04 764.16 L1317.15 763.27 L1317.27 762.40 L1317.38 761.52 L1317.49 760.63 L1317.60 759.73 L1317.70 758.80 L1317.80 757.74 L1317.89 756.64 L1317.98 755.53 L1318.06 754.40 L1318.15 753.27 L1318.23 752.16 L1318.31 751.06 L1318.40 750.00 L1318.48 749.07 L1318.57 748.16 L1318.65 747.27 L1318.74 746.39 L1318.83 745.51 L1318.91 744.62 L1319.01 743.72 L1319.10 742.80 L1319.20 741.77 L1319.30 740.71 L1319.41 739.63 L1319.51 738.54 L1319.62 737.46 L1319.74 736.42 L1319.86 735.43 L1320.00 734.50 L1320.11 733.83 L1320.22 733.18 L1320.34 732.56 L1320.46 731.95 L1320.59 731.37 L1320.72 730.81 L1320.86 730.29 L1321.00 729.80 L1321.10 729.47 L1321.21 729.16 L1321.31 728.85 L1321.42 728.57 L1321.53 728.29 L1321.65 728.04 L1321.77 727.81 L1321.90 727.60 L1321.99 727.46 L1322.09 727.32 L1322.20 727.18 L1322.30 727.05 L1322.40 726.94 L1322.51 726.86 L1322.61 726.81 L1322.70 726.80 L1322.81 726.85 L1322.92 726.96 L1323.02 727.11 L1323.12 727.31 L1323.22 727.53 L1323.32 727.78 L1323.41 728.04 L1323.50 728.30 L1323.66 728.84 L1323.79 729.48 L1323.92 730.19 L1324.03 730.96 L1324.15 731.76 L1324.28 732.59 L1324.43 733.40 L1324.60 734.20 L1324.83 735.10 L1325.10 736.01 L1325.40 736.95 L1325.71 737.89 L1326.01 738.84 L1326.30 739.80 L1326.57 740.75 L1326.80 741.70 L1326.98 742.65 L1327.13 743.62 L1327.25 744.60 L1327.36 745.58 L1327.47 746.55 L1327.59 747.48 L1327.73 748.37 L1327.90 749.20 L1328.04 749.81 L1328.19 750.41 L1328.34 751.00 L1328.50 751.56 L1328.67 752.09 L1328.86 752.58 L1329.07 753.02 L1329.30 753.40 L1329.47 753.62 L1329.66 753.83 L1329.86 754.02 L1330.06 754.19 L1330.27 754.34 L1330.48 754.46 L1330.69 754.55 L1330.90 754.60 L1331.08 754.62 L1331.25 754.61 L1331.43 754.57 L1331.61 754.52 L1331.79 754.45 L1331.97 754.37 L1332.14 754.29 L1332.30 754.20 L1332.46 754.11 L1332.61 754.02 L1332.75 753.93 L1332.89 753.82 L1333.03 753.70 L1333.17 753.56 L1333.33 753.39 L1333.50 753.20 L1333.97 752.55 L1334.50 751.65 L1335.09 750.59 L1335.71 749.43 L1336.35 748.25 L1337.01 747.14 L1337.66 746.16 L1338.30 745.40 L1338.71 745.00 L1339.13 744.63 L1339.54 744.30 L1339.96 744.00 L1340.39 743.75 L1340.82 743.55 L1341.26 743.39 L1341.70 743.30 L1342.15 743.27 L1342.61 743.31 L1343.08 743.39 L1343.56 743.52 L1344.03 743.69 L1344.50 743.88 L1344.96 744.09 L1345.40 744.30 L1345.84 744.54 L1346.26 744.83 L1346.67 745.14 L1347.07 745.48 L1347.47 745.82 L1347.87 746.16 L1348.28 746.49 L1348.70 746.80 L1349.12 747.10 L1349.55 747.41 L1349.98 747.72 L1350.41 748.02 L1350.85 748.31 L1351.29 748.57 L1351.74 748.80 L1352.20 749.00 L1352.65 749.16 L1353.12 749.28 L1353.59 749.39 L1354.07 749.47 L1354.55 749.53 L1355.03 749.57 L1355.52 749.60 L1356.00 749.60 L1356.49 749.58 L1356.96 749.53 L1357.43 749.45 L1357.91 749.36 L1358.40 749.25 L1358.90 749.14 L1359.43 749.02 L1360.00 748.90 L1360.87 748.72 L1361.81 748.51 L1362.81 748.27 L1363.84 748.03 L1364.89 747.79 L1365.95 747.56 L1366.99 747.36 L1368.00 747.20 L1368.93 747.08 L1369.85 746.99 L1370.75 746.92 L1371.65 746.87 L1372.57 746.83 L1373.50 746.79 L1374.48 746.75 L1375.50 746.70 L1376.85 746.64 L1378.26 746.60 L1379.72 746.56 L1381.22 746.53 L1382.75 746.49 L1384.31 746.44 L1385.90 746.38 L1387.50 746.30 L1389.39 746.18 L1391.34 746.04 L1393.33 745.89 L1395.36 745.72 L1397.40 745.54 L1399.45 745.36 L1401.48 745.18 L1403.50 745.00 L1405.50 744.82 L1407.50 744.64 L1409.50 744.45 L1411.50 744.26 L1413.50 744.07 L1415.50 743.88 L1417.50 743.69 L1419.50 743.50 L1421.50 743.31 L1423.50 743.12 L1425.50 742.92 L1427.50 742.73 L1429.50 742.54 L1431.50 742.35 L1433.50 742.17 L1435.50 742.00 L1437.50 741.83 L1439.50 741.67 L1441.50 741.52 L1443.50 741.37 L1445.50 741.22 L1447.50 741.08 L1449.50 740.94 L1451.50 740.80 L1453.50 740.66 L1455.50 740.53 L1457.50 740.40 L1459.50 740.28 L1461.50 740.15 L1463.50 740.03 L1465.50 739.91 L1467.50 739.80 L1469.50 739.69 L1471.50 739.58 L1473.50 739.48 L1475.50 739.38 L1477.50 739.28 L1479.50 739.19 L1481.50 739.09 L1483.50 739.00 L1485.50 738.91 L1487.51 738.81 L1489.51 738.72 L1491.52 738.63 L1493.52 738.54 L1495.52 738.46 L1497.51 738.38 L1499.50 738.30 L1501.45 738.23 L1503.39 738.16 L1505.32 738.09 L1507.25 738.03 L1509.18 737.96 L1511.11 737.91 L1513.05 737.85 L1515.00 737.80 L1516.96 737.75 L1518.87 737.70 L1520.77 737.66 L1522.69 737.62 L1524.64 737.58 L1526.66 737.55 L1528.77 737.52 L1531.00 737.50 L1534.61 737.48 L1539.01 737.47 L1543.80 737.47 L1548.59 737.47 L1553.00 737.48 L1556.63 737.49 L1559.09 737.50 L1560.00 737.50"/>
<path class="ln" stroke="#FF0000" stroke-dasharray="8 8" stroke-dashoffset="0.7" d="M1560.00 737.50 L1810.00 737.50"/>
</g>
<text class="tk" x="259.9" y="836.4" text-anchor="middle">0</text>
<text class="tk" x="517.9" y="836.4" text-anchor="middle">5</text>
<text class="tk" x="776.5" y="836.4" text-anchor="middle">10</text>
<text class="tk" x="1034.9" y="836.4" text-anchor="middle">15</text>
<text class="tk" x="1292.9" y="836.4" text-anchor="middle">20</text>
<text class="tk" x="1551.8" y="836.4" text-anchor="middle">25</text>
<text class="tk" x="1809.8" y="836.4" text-anchor="middle">30</text>
<text class="tk" x="251.4" y="534" text-anchor="end">0.6</text>
<text class="tk" x="251.4" y="604.9" text-anchor="end">0.4</text>
<text class="tk" x="251.4" y="675.4" text-anchor="end">0.2</text>
<text class="tk" x="251.4" y="745.7" text-anchor="end">0</text>
<text class="tk" x="251.4" y="815.9" text-anchor="end">-0.2</text>
<text class="ti" x="1035" y="517.3" text-anchor="middle">Πραγματικό vs εκτιμώμενο r(t)</text>
<text class="lb" style="font-size:23.1px" transform="translate(198.4 667.6) rotate(-90)" text-anchor="middle">Roll angle [rad]</text>
<rect x="1657.5" y="541.5" width="135" height="63" fill="#fff" stroke="#262626" stroke-width="1" shape-rendering="crispEdges"/>
<path class="ln" stroke="#0000FF" d="M1663.5 556.6 H1727"/>
<path class="ln" stroke="#FF0000" stroke-dasharray="8 8" d="M1663.5 585.4 H1727"/>
<text class="lg" x="1731.4" y="562.9">r(t)</text>
<text class="lg" x="1731.4" y="587.6">r<tspan class="sb" x="1738.8" dy="9.2" style="letter-spacing:0.8px">hat</tspan><tspan x="1764.1" dy="-9.2">(t)</tspan></text>
</g>
<g id="ax3">
<path class="gr" d="M518.5 917.5 V1199.5 M776.5 917.5 V1199.5 M1035.5 917.5 V1199.5 M1293.5 917.5 V1199.5 M1551.5 917.5 V1199.5"/>
<path class="gr" d="M260.5 965.5 H1809.5 M260.5 1012.5 H1809.5 M260.5 1059.5 H1809.5 M260.5 1106.5 H1809.5 M260.5 1153.5 H1809.5"/>
<path class="ax" d="M518.5 1199.5 v-15.6 M518.5 917.5 v15.6 M776.5 1199.5 v-15.6 M776.5 917.5 v15.6 M1035.5 1199.5 v-15.6 M1035.5 917.5 v15.6 M1293.5 1199.5 v-15.6 M1293.5 917.5 v15.6 M1551.5 1199.5 v-15.6 M1551.5 917.5 v15.6 M260.5 965.5 h15.6 M1809.5 965.5 h-15.6 M260.5 1012.5 h15.6 M1809.5 1012.5 h-15.6 M260.5 1059.5 h15.6 M1809.5 1059.5 h-15.6 M260.5 1106.5 h15.6 M1809.5 1106.5 h-15.6 M260.5 1153.5 h15.6 M1809.5 1153.5 h-15.6"/>
<rect class="ax" x="260.5" y="917.5" width="1549" height="282"/>
<clipPath id="c3"><rect x="260" y="917" width="1550" height="283"/></clipPath>
<g clip-path="url(#c3)">
<path class="ln" stroke="#000000"  d="M260.00 1152.50 L776.70 1152.50 L776.75 1151.98 L776.90 1150.56 L777.12 1148.43 L777.38 1145.77 L777.67 1142.78 L777.97 1139.65 L778.25 1136.58 L778.50 1133.75 L778.78 1130.24 L779.05 1126.55 L779.32 1122.71 L779.59 1118.75 L779.86 1114.72 L780.13 1110.64 L780.41 1106.56 L780.70 1102.50 L781.02 1098.06 L781.36 1093.43 L781.70 1088.70 L782.04 1083.97 L782.39 1079.32 L782.74 1074.84 L783.07 1070.64 L783.40 1066.80 L783.62 1064.40 L783.84 1062.16 L784.06 1060.05 L784.28 1058.02 L784.50 1056.04 L784.71 1054.07 L784.91 1052.07 L785.10 1050.00 L785.28 1047.82 L785.46 1045.58 L785.62 1043.32 L785.78 1041.06 L785.94 1038.84 L786.09 1036.69 L786.25 1034.63 L786.40 1032.70 L786.50 1031.29 L786.56 1029.87 L786.61 1028.48 L786.67 1027.14 L786.75 1025.88 L786.87 1024.74 L787.05 1023.73 L787.30 1022.90 L787.46 1022.53 L787.64 1022.17 L787.83 1021.83 L788.03 1021.54 L788.24 1021.28 L788.46 1021.08 L788.68 1020.95 L788.90 1020.90 L789.13 1020.96 L789.37 1021.13 L789.61 1021.39 L789.85 1021.71 L790.10 1022.05 L790.36 1022.38 L790.63 1022.67 L790.90 1022.90 L791.16 1023.07 L791.43 1023.24 L791.70 1023.40 L791.98 1023.55 L792.26 1023.66 L792.55 1023.74 L792.83 1023.77 L793.10 1023.75 L793.45 1023.63 L793.79 1023.43 L794.14 1023.15 L794.48 1022.81 L794.82 1022.42 L795.16 1022.00 L795.48 1021.55 L795.80 1021.10 L796.24 1020.39 L796.65 1019.59 L797.05 1018.71 L797.44 1017.78 L797.81 1016.81 L798.18 1015.83 L798.54 1014.85 L798.90 1013.90 L799.27 1012.94 L799.63 1011.99 L799.99 1011.04 L800.34 1010.08 L800.67 1009.09 L801.00 1008.07 L801.31 1007.01 L801.60 1005.90 L801.94 1004.41 L802.25 1002.83 L802.53 1001.18 L802.79 999.48 L803.04 997.75 L803.28 996.00 L803.54 994.24 L803.80 992.50 L804.09 990.63 L804.37 988.72 L804.66 986.78 L804.94 984.83 L805.22 982.89 L805.51 980.98 L805.80 979.11 L806.10 977.30 L806.36 975.75 L806.63 974.20 L806.90 972.67 L807.17 971.17 L807.45 969.71 L807.73 968.30 L808.01 966.96 L808.30 965.70 L808.51 964.81 L808.72 963.93 L808.92 963.08 L809.13 962.27 L809.34 961.49 L809.57 960.77 L809.82 960.10 L810.10 959.50 L810.30 959.13 L810.50 958.78 L810.71 958.45 L810.92 958.15 L811.15 957.87 L811.39 957.62 L811.64 957.39 L811.90 957.20 L812.14 957.05 L812.39 956.93 L812.65 956.83 L812.91 956.75 L813.19 956.68 L813.48 956.64 L813.78 956.61 L814.10 956.60 L814.59 956.65 L815.12 956.79 L815.68 956.99 L816.27 957.21 L816.86 957.43 L817.45 957.60 L818.04 957.70 L818.60 957.70 L819.17 957.59 L819.73 957.41 L820.29 957.16 L820.84 956.86 L821.39 956.53 L821.93 956.16 L822.47 955.78 L823.00 955.40 L823.59 954.93 L824.16 954.40 L824.73 953.83 L825.30 953.24 L825.85 952.64 L826.40 952.05 L826.95 951.50 L827.50 951.00 L827.96 950.61 L828.41 950.22 L828.85 949.85 L829.29 949.49 L829.74 949.16 L830.18 948.84 L830.64 948.56 L831.10 948.30 L831.53 948.08 L831.96 947.88 L832.40 947.68 L832.84 947.51 L833.28 947.37 L833.72 947.27 L834.16 947.21 L834.60 947.20 L835.05 947.25 L835.50 947.36 L835.95 947.51 L836.40 947.71 L836.85 947.94 L837.30 948.19 L837.75 948.46 L838.20 948.75 L838.76 949.14 L839.32 949.58 L839.87 950.07 L840.43 950.59 L840.99 951.13 L841.56 951.68 L842.13 952.25 L842.70 952.80 L843.35 953.43 L844.01 954.08 L844.67 954.75 L845.34 955.43 L846.01 956.12 L846.67 956.79 L847.34 957.46 L848.00 958.10 L848.62 958.68 L849.23 959.24 L849.83 959.78 L850.44 960.32 L851.05 960.87 L851.66 961.42 L852.28 962.00 L852.90 962.60 L853.62 963.31 L854.34 964.04 L855.08 964.78 L855.82 965.54 L856.56 966.32 L857.30 967.13 L858.03 967.95 L858.75 968.80 L859.54 969.77 L860.33 970.78 L861.11 971.81 L861.88 972.87 L862.66 973.95 L863.43 975.06 L864.21 976.17 L865.00 977.30 L865.88 978.57 L866.76 979.87 L867.65 981.20 L868.54 982.54 L869.43 983.90 L870.32 985.27 L871.21 986.64 L872.10 988.00 L873.01 989.39 L873.92 990.81 L874.84 992.23 L875.75 993.66 L876.66 995.08 L877.56 996.48 L878.44 997.86 L879.30 999.20 L880.04 1000.35 L880.75 1001.46 L881.45 1002.55 L882.14 1003.62 L882.84 1004.70 L883.54 1005.79 L884.26 1006.92 L885.00 1008.10 L885.89 1009.52 L886.79 1010.96 L887.71 1012.43 L888.64 1013.93 L889.59 1015.48 L890.58 1017.07 L891.59 1018.70 L892.65 1020.40 L894.08 1022.70 L895.58 1025.13 L897.14 1027.67 L898.75 1030.27 L900.38 1032.90 L902.03 1035.52 L903.68 1038.10 L905.30 1040.60 L906.86 1042.95 L908.43 1045.28 L910.00 1047.59 L911.58 1049.88 L913.17 1052.15 L914.76 1054.41 L916.35 1056.66 L917.95 1058.90 L919.51 1061.08 L921.08 1063.26 L922.65 1065.43 L924.23 1067.58 L925.81 1069.72 L927.40 1071.84 L928.99 1073.93 L930.60 1076.00 L932.16 1077.97 L933.72 1079.91 L935.30 1081.83 L936.88 1083.74 L938.46 1085.63 L940.05 1087.50 L941.65 1089.35 L943.25 1091.20 L944.81 1093.00 L946.37 1094.80 L947.93 1096.59 L949.50 1098.36 L951.08 1100.11 L952.67 1101.82 L954.28 1103.49 L955.90 1105.10 L957.44 1106.57 L959.00 1107.99 L960.57 1109.39 L962.15 1110.74 L963.74 1112.07 L965.34 1113.37 L966.94 1114.65 L968.55 1115.90 L970.11 1117.09 L971.67 1118.25 L973.24 1119.38 L974.82 1120.50 L976.41 1121.59 L978.00 1122.65 L979.60 1123.69 L981.20 1124.70 L982.76 1125.66 L984.33 1126.60 L985.90 1127.52 L987.48 1128.41 L989.06 1129.28 L990.65 1130.12 L992.25 1130.92 L993.85 1131.70 L995.41 1132.42 L996.98 1133.10 L998.56 1133.75 L1000.14 1134.38 L1001.73 1134.99 L1003.32 1135.57 L1004.91 1136.14 L1006.50 1136.70 L1008.07 1137.24 L1009.65 1137.76 L1011.22 1138.26 L1012.80 1138.74 L1014.39 1139.21 L1015.97 1139.66 L1017.56 1140.09 L1019.15 1140.50 L1020.72 1140.89 L1022.30 1141.26 L1023.88 1141.62 L1025.46 1141.96 L1027.04 1142.28 L1028.63 1142.58 L1030.21 1142.85 L1031.80 1143.10 L1033.38 1143.32 L1034.95 1143.51 L1036.54 1143.67 L1038.12 1143.82 L1039.70 1143.95 L1041.28 1144.07 L1042.87 1144.18 L1044.45 1144.30 L1046.03 1144.42 L1047.61 1144.54 L1049.19 1144.65 L1050.77 1144.75 L1052.35 1144.84 L1053.94 1144.91 L1055.52 1144.97 L1057.10 1145.00 L1058.65 1145.01 L1060.17 1144.99 L1061.66 1144.96 L1063.17 1144.92 L1064.71 1144.85 L1066.30 1144.78 L1067.97 1144.69 L1069.75 1144.60 L1072.41 1144.44 L1075.27 1144.25 L1078.28 1144.03 L1081.40 1143.79 L1084.57 1143.54 L1087.76 1143.28 L1090.92 1143.04 L1094.00 1142.80 L1097.01 1142.57 L1100.01 1142.34 L1103.01 1142.11 L1106.01 1141.88 L1109.00 1141.65 L1112.00 1141.42 L1115.00 1141.21 L1118.00 1141.00 L1121.00 1140.80 L1124.00 1140.61 L1127.00 1140.43 L1130.00 1140.25 L1133.00 1140.08 L1136.00 1139.91 L1139.00 1139.75 L1142.00 1139.60 L1145.00 1139.45 L1148.00 1139.32 L1151.00 1139.19 L1154.00 1139.06 L1157.00 1138.94 L1160.00 1138.83 L1163.00 1138.71 L1166.00 1138.60 L1168.98 1138.49 L1171.94 1138.38 L1174.88 1138.27 L1177.83 1138.16 L1180.80 1138.06 L1183.81 1137.97 L1186.87 1137.88 L1190.00 1137.80 L1193.59 1137.72 L1197.26 1137.64 L1201.00 1137.57 L1204.79 1137.50 L1208.60 1137.45 L1212.42 1137.42 L1216.23 1137.40 L1220.00 1137.40 L1223.77 1137.43 L1227.58 1137.48 L1231.40 1137.55 L1235.21 1137.63 L1239.00 1137.73 L1242.74 1137.82 L1246.41 1137.91 L1250.00 1138.00 L1253.15 1138.07 L1256.25 1138.15 L1259.31 1138.23 L1262.33 1138.31 L1265.31 1138.38 L1268.25 1138.46 L1271.15 1138.53 L1274.00 1138.60 L1276.76 1138.66 L1279.85 1138.73 L1283.04 1138.79 L1286.13 1138.86 L1288.91 1138.91 L1291.15 1138.96 L1292.65 1138.99 L1293.20 1139.00 L1293.35 1138.95 L1293.75 1138.82 L1294.35 1138.61 L1295.07 1138.34 L1295.86 1138.01 L1296.65 1137.64 L1297.39 1137.23 L1298.00 1136.80 L1298.61 1136.24 L1299.20 1135.59 L1299.77 1134.88 L1300.32 1134.11 L1300.83 1133.31 L1301.32 1132.48 L1301.78 1131.64 L1302.20 1130.80 L1302.61 1129.91 L1302.97 1129.01 L1303.29 1128.09 L1303.58 1127.14 L1303.85 1126.16 L1304.11 1125.15 L1304.35 1124.10 L1304.60 1123.00 L1304.90 1121.49 L1305.18 1119.88 L1305.43 1118.20 L1305.66 1116.46 L1305.87 1114.70 L1306.08 1112.93 L1306.29 1111.19 L1306.50 1109.50 L1306.70 1107.94 L1306.90 1106.42 L1307.08 1104.92 L1307.26 1103.43 L1307.44 1101.91 L1307.63 1100.34 L1307.81 1098.72 L1308.00 1097.00 L1308.24 1094.61 L1308.48 1092.06 L1308.71 1089.39 L1308.95 1086.65 L1309.20 1083.88 L1309.47 1081.14 L1309.77 1078.46 L1310.10 1075.90 L1310.43 1073.64 L1310.78 1071.38 L1311.15 1069.14 L1311.54 1066.93 L1311.94 1064.78 L1312.35 1062.71 L1312.77 1060.74 L1313.20 1058.90 L1313.52 1057.62 L1313.86 1056.40 L1314.20 1055.22 L1314.55 1054.09 L1314.90 1053.01 L1315.24 1051.96 L1315.58 1050.96 L1315.90 1050.00 L1316.12 1049.29 L1316.33 1048.57 L1316.53 1047.86 L1316.73 1047.19 L1316.93 1046.56 L1317.16 1045.99 L1317.41 1045.50 L1317.70 1045.10 L1317.89 1044.90 L1318.09 1044.73 L1318.30 1044.58 L1318.52 1044.46 L1318.74 1044.36 L1318.98 1044.28 L1319.23 1044.23 L1319.50 1044.20 L1319.93 1044.24 L1320.40 1044.40 L1320.91 1044.63 L1321.44 1044.89 L1321.98 1045.15 L1322.51 1045.36 L1323.02 1045.49 L1323.50 1045.50 L1323.93 1045.40 L1324.34 1045.23 L1324.75 1045.01 L1325.15 1044.73 L1325.53 1044.42 L1325.90 1044.07 L1326.26 1043.69 L1326.60 1043.30 L1327.01 1042.74 L1327.39 1042.11 L1327.74 1041.42 L1328.06 1040.68 L1328.38 1039.90 L1328.68 1039.10 L1328.99 1038.30 L1329.30 1037.50 L1329.65 1036.56 L1329.99 1035.58 L1330.32 1034.57 L1330.64 1033.54 L1330.96 1032.50 L1331.29 1031.47 L1331.64 1030.47 L1332.00 1029.50 L1332.35 1028.61 L1332.70 1027.71 L1333.06 1026.82 L1333.43 1025.94 L1333.81 1025.09 L1334.22 1024.28 L1334.64 1023.51 L1335.10 1022.80 L1335.49 1022.25 L1335.89 1021.73 L1336.30 1021.24 L1336.72 1020.77 L1337.16 1020.33 L1337.64 1019.92 L1338.15 1019.55 L1338.70 1019.20 L1339.41 1018.85 L1340.18 1018.58 L1341.01 1018.35 L1341.87 1018.16 L1342.76 1017.98 L1343.65 1017.81 L1344.54 1017.62 L1345.40 1017.40 L1346.28 1017.13 L1347.18 1016.84 L1348.08 1016.54 L1348.98 1016.24 L1349.87 1015.95 L1350.76 1015.67 L1351.64 1015.42 L1352.50 1015.20 L1353.25 1015.03 L1353.98 1014.85 L1354.71 1014.69 L1355.43 1014.55 L1356.15 1014.43 L1356.86 1014.35 L1357.58 1014.30 L1358.30 1014.30 L1359.03 1014.34 L1359.76 1014.42 L1360.49 1014.53 L1361.22 1014.68 L1361.95 1014.86 L1362.68 1015.08 L1363.39 1015.32 L1364.10 1015.60 L1364.85 1015.95 L1365.58 1016.34 L1366.30 1016.78 L1367.01 1017.26 L1367.73 1017.77 L1368.46 1018.30 L1369.22 1018.84 L1370.00 1019.40 L1371.04 1020.13 L1372.12 1020.92 L1373.24 1021.75 L1374.38 1022.60 L1375.53 1023.48 L1376.68 1024.36 L1377.80 1025.24 L1378.90 1026.10 L1379.94 1026.91 L1380.96 1027.70 L1381.97 1028.48 L1382.98 1029.27 L1383.98 1030.08 L1384.98 1030.93 L1385.99 1031.83 L1387.00 1032.80 L1388.23 1034.07 L1389.46 1035.44 L1390.69 1036.89 L1391.93 1038.39 L1393.16 1039.91 L1394.38 1041.44 L1395.60 1042.94 L1396.80 1044.40 L1397.94 1045.76 L1399.06 1047.10 L1400.17 1048.44 L1401.28 1049.77 L1402.38 1051.10 L1403.49 1052.43 L1404.59 1053.77 L1405.70 1055.10 L1406.81 1056.44 L1407.92 1057.78 L1409.03 1059.11 L1410.15 1060.45 L1411.26 1061.79 L1412.37 1063.13 L1413.48 1064.46 L1414.60 1065.80 L1415.72 1067.14 L1416.84 1068.48 L1417.97 1069.83 L1419.09 1071.17 L1420.22 1072.51 L1421.35 1073.84 L1422.47 1075.18 L1423.60 1076.50 L1424.71 1077.80 L1425.82 1079.11 L1426.93 1080.41 L1428.03 1081.71 L1429.14 1083.00 L1430.26 1084.28 L1431.38 1085.55 L1432.50 1086.80 L1433.60 1088.01 L1434.70 1089.21 L1435.81 1090.41 L1436.92 1091.59 L1438.03 1092.76 L1439.15 1093.92 L1440.27 1095.07 L1441.40 1096.20 L1442.51 1097.29 L1443.63 1098.36 L1444.75 1099.41 L1445.88 1100.46 L1447.01 1101.50 L1448.14 1102.53 L1449.27 1103.57 L1450.40 1104.60 L1451.50 1105.62 L1452.60 1106.64 L1453.69 1107.66 L1454.78 1108.67 L1455.88 1109.68 L1457.00 1110.69 L1458.13 1111.69 L1459.30 1112.70 L1460.58 1113.78 L1461.89 1114.87 L1463.22 1115.96 L1464.57 1117.05 L1465.93 1118.13 L1467.30 1119.18 L1468.65 1120.21 L1470.00 1121.20 L1471.25 1122.09 L1472.50 1122.95 L1473.75 1123.79 L1475.00 1124.60 L1476.24 1125.41 L1477.49 1126.21 L1478.75 1127.00 L1480.00 1127.80 L1481.24 1128.60 L1482.49 1129.39 L1483.74 1130.18 L1484.98 1130.96 L1486.23 1131.74 L1487.49 1132.50 L1488.74 1133.26 L1490.00 1134.00 L1491.24 1134.72 L1492.48 1135.44 L1493.73 1136.15 L1494.98 1136.84 L1496.23 1137.53 L1497.48 1138.20 L1498.74 1138.86 L1500.00 1139.50 L1501.24 1140.11 L1502.48 1140.70 L1503.73 1141.29 L1504.98 1141.85 L1506.23 1142.41 L1507.49 1142.95 L1508.74 1143.48 L1510.00 1144.00 L1511.24 1144.50 L1512.49 1145.00 L1513.73 1145.48 L1514.98 1145.95 L1516.23 1146.41 L1517.49 1146.85 L1518.74 1147.28 L1520.00 1147.70 L1521.24 1148.09 L1522.49 1148.47 L1523.74 1148.83 L1524.99 1149.18 L1526.24 1149.52 L1527.49 1149.85 L1528.75 1150.18 L1530.00 1150.50 L1531.25 1150.81 L1532.49 1151.12 L1533.74 1151.42 L1534.99 1151.72 L1536.24 1152.00 L1537.49 1152.28 L1538.75 1152.54 L1540.00 1152.80 L1541.25 1153.04 L1542.50 1153.28 L1543.74 1153.50 L1544.99 1153.72 L1546.24 1153.92 L1547.50 1154.12 L1548.75 1154.32 L1550.00 1154.50 L1551.25 1154.68 L1552.50 1154.84 L1553.75 1155.00 L1555.00 1155.16 L1556.25 1155.30 L1557.50 1155.44 L1558.75 1155.57 L1560.00 1155.70 L1561.25 1155.82 L1562.50 1155.94 L1563.75 1156.05 L1565.00 1156.15 L1566.25 1156.25 L1567.50 1156.34 L1568.75 1156.42 L1570.00 1156.50 L1571.25 1156.57 L1572.50 1156.64 L1573.75 1156.69 L1575.00 1156.74 L1576.25 1156.79 L1577.50 1156.83 L1578.75 1156.87 L1580.00 1156.90 L1581.22 1156.93 L1582.40 1156.95 L1583.56 1156.97 L1584.73 1156.99 L1585.93 1157.00 L1587.20 1157.00 L1588.54 1157.00 L1590.00 1157.00 L1592.47 1156.99 L1595.16 1156.96 L1598.03 1156.92 L1601.05 1156.87 L1604.19 1156.82 L1607.42 1156.75 L1610.70 1156.68 L1614.00 1156.60 L1618.15 1156.49 L1622.49 1156.35 L1626.97 1156.21 L1631.55 1156.05 L1636.18 1155.88 L1640.83 1155.72 L1645.45 1155.56 L1650.00 1155.40 L1654.50 1155.25 L1659.00 1155.09 L1663.50 1154.93 L1668.00 1154.78 L1672.50 1154.62 L1677.00 1154.47 L1681.50 1154.33 L1686.00 1154.20 L1690.50 1154.08 L1695.00 1153.96 L1699.50 1153.85 L1704.00 1153.75 L1708.50 1153.65 L1713.00 1153.56 L1717.50 1153.48 L1722.00 1153.40 L1726.45 1153.33 L1730.85 1153.27 L1735.21 1153.22 L1739.59 1153.17 L1744.02 1153.13 L1748.54 1153.09 L1753.18 1153.04 L1758.00 1153.00 L1764.75 1152.94 L1772.77 1152.88 L1781.37 1152.81 L1789.90 1152.74 L1797.70 1152.69 L1804.09 1152.64 L1808.41 1152.61 L1810.00 1152.60"/>
</g>
<text class="tk" x="259.9" y="1228.4" text-anchor="middle">0</text>
<text class="tk" x="517.9" y="1228.4" text-anchor="middle">5</text>
<text class="tk" x="776.5" y="1228.4" text-anchor="middle">10</text>
<text class="tk" x="1034.9" y="1228.4" text-anchor="middle">15</text>
<text class="tk" x="1292.9" y="1228.4" text-anchor="middle">20</text>
<text class="tk" x="1551.8" y="1228.4" text-anchor="middle">25</text>
<text class="tk" x="1809.8" y="1228.4" text-anchor="middle">30</text>
<text class="tk" x="251.4" y="925.4" text-anchor="end">0.05</text>
<text class="tk" x="251.4" y="973.4" text-anchor="end">0.04</text>
<text class="tk" x="251.4" y="1020.4" text-anchor="end">0.03</text>
<text class="tk" x="251.4" y="1067.4" text-anchor="end">0.02</text>
<text class="tk" x="251.4" y="1114.4" text-anchor="end">0.01</text>
<text class="tk" x="251.4" y="1161.4" text-anchor="end">0</text>
<text class="tk" x="251.4" y="1207.4" text-anchor="end">-0.01</text>
<text class="ti" x="1034.5" y="908.3" text-anchor="middle">Σφάλμα θέσης: r(t) - r̂(t)</text>
<text class="lb" transform="translate(175.3 1083.8) rotate(-90)">e<tspan style="font-size:18.3px" dx="0.9" dy="10.8">r</tspan><tspan dx="0.6" dy="-10.8">(t)</tspan></text>
<text class="lb" x="1035.1" y="1257.3" text-anchor="middle">Time [s]</text>
</g>
</svg>
</body></html>
